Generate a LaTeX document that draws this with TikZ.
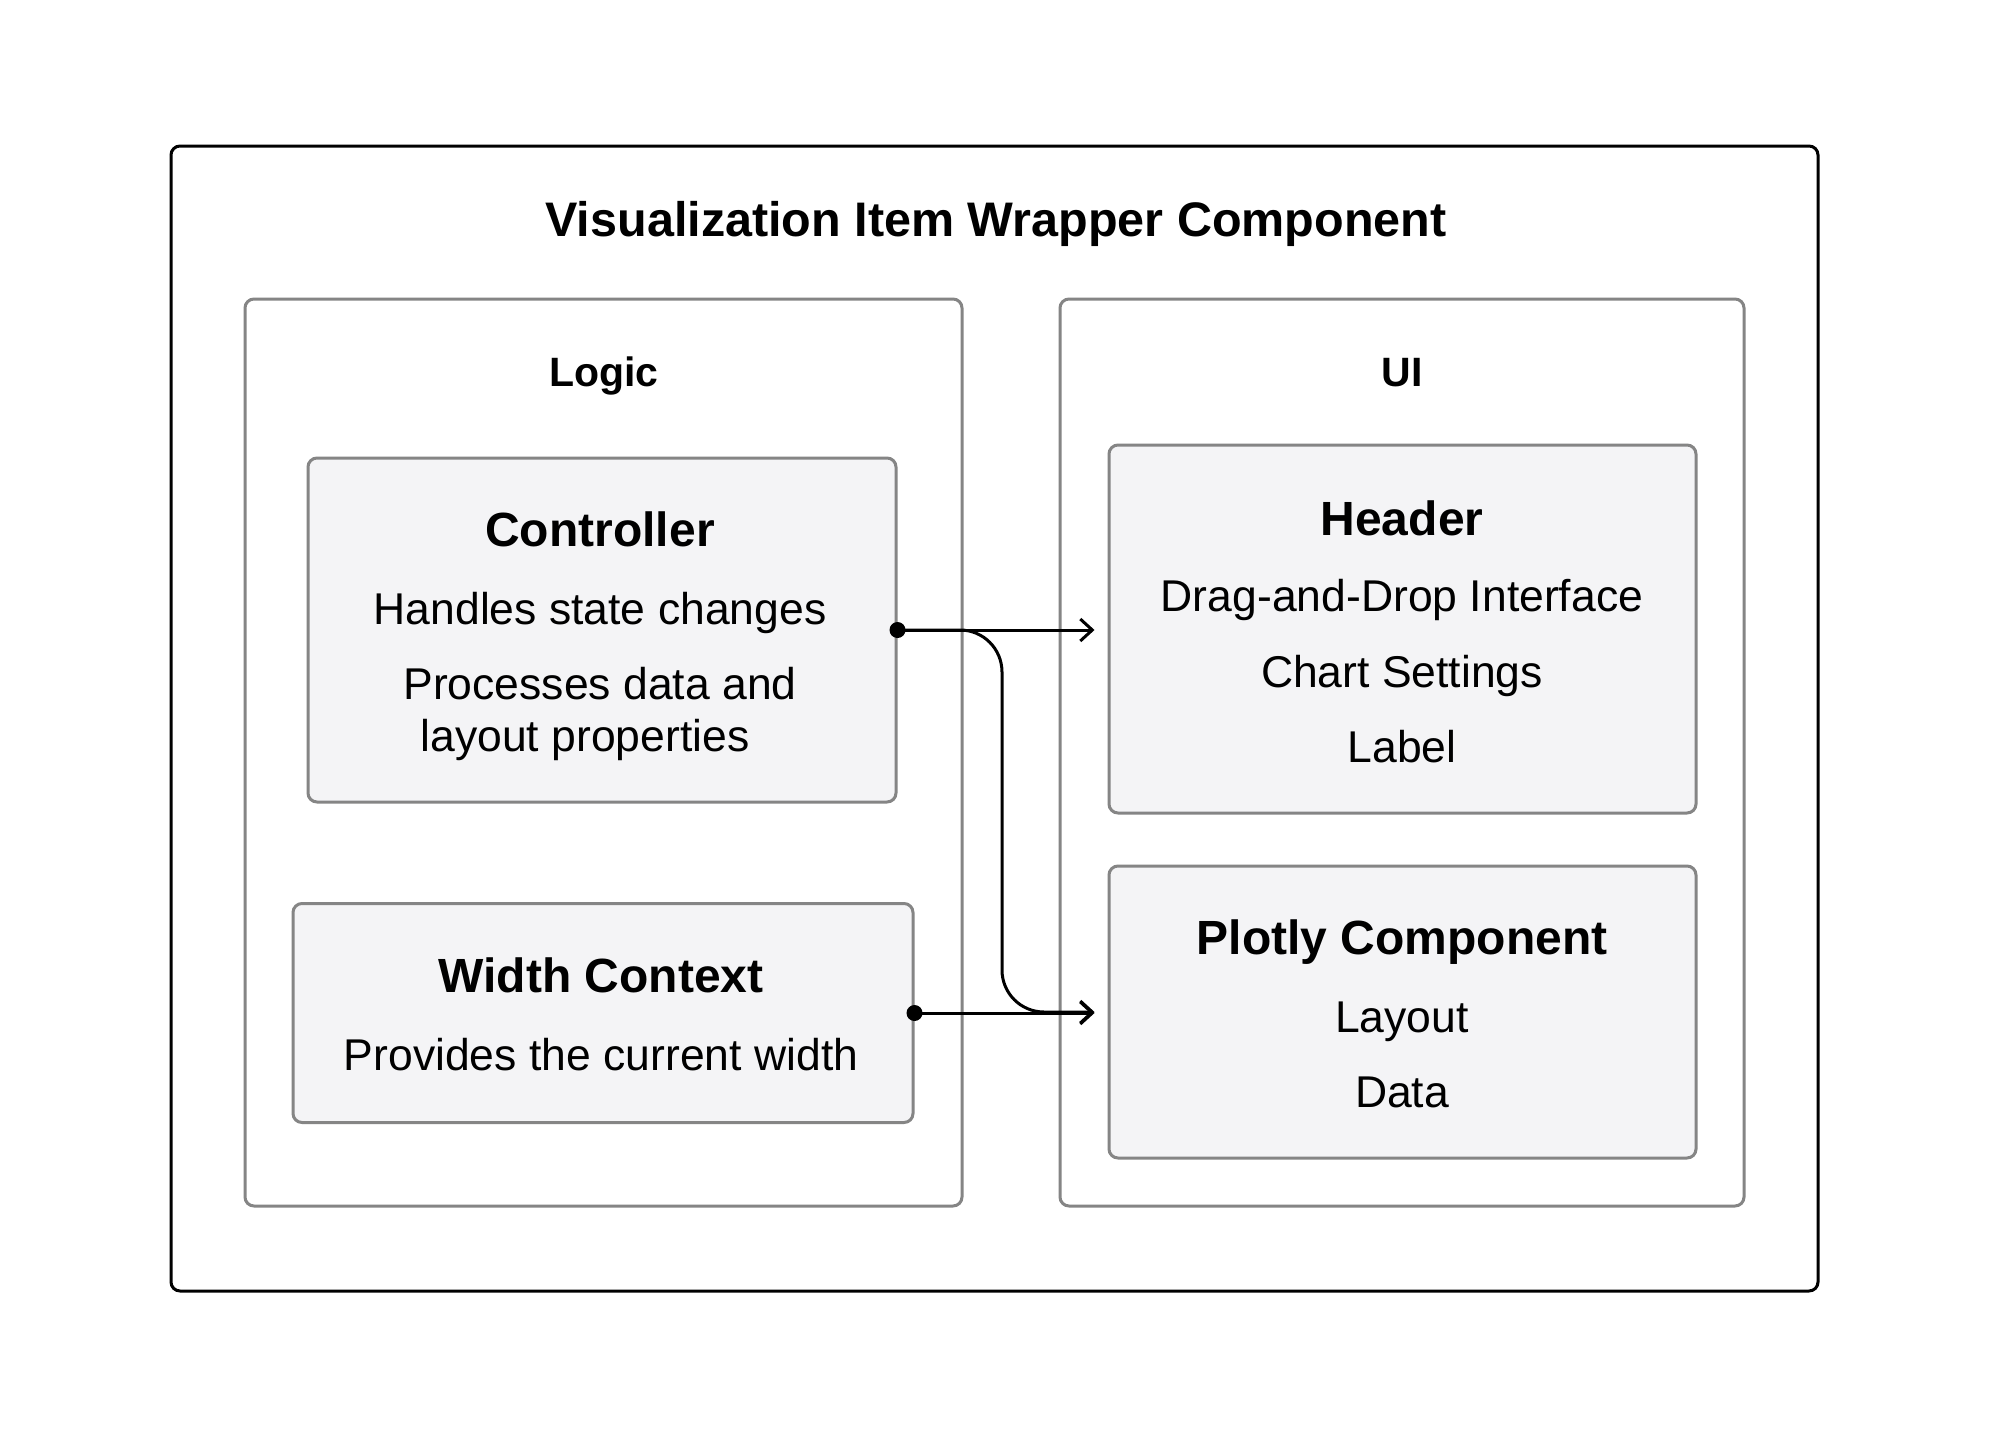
\documentclass[tikz,border=0pt]{standalone}
\usepackage{fontspec}
\setmainfont{Liberation Sans}
\usetikzlibrary{arrows.meta}
\definecolor{boxfill}{HTML}{F4F4F6}
\definecolor{boxline}{HTML}{858585}
\tikzset{
  outerbox/.style={draw=black, line width=3pt, rounded corners=9pt, fill=white},
  groupbox/.style={draw=boxline, line width=3pt, rounded corners=9pt, fill=white, inner sep=0pt},
  itembox/.style={draw=boxline, line width=3pt, rounded corners=9pt, fill=boxfill, inner sep=0pt},
  txt/.style={inner sep=0pt, text depth=0pt, anchor=center},
  titletxt/.style={txt, text height=34.7pt, font=\fontsize{48.5}{56}\selectfont\bfseries},
  grouptxt/.style={txt, text height=29.4pt, font=\fontsize{41}{48}\selectfont\bfseries},
  headtxt/.style={txt, text height=34.4pt, font=\fontsize{48}{56}\selectfont\bfseries},
  bodytxt/.style={txt, text height=31.9pt, font=\fontsize{44.5}{52}\selectfont},
  conn/.style={draw=black, line width=3pt, -{Straight Barb[length=12pt,width=22pt,line width=3pt]}},
}
\begin{document}
\begin{tikzpicture}[x=1pt,y=-1pt]
\path[use as bounding box, fill=white] (0,0) rectangle (1989,1437);
% boxes
\node[outerbox, minimum width=1647pt, minimum height=1145pt] (outer) at (994.5,718.5) {};
\node[groupbox, minimum width=717pt, minimum height=907pt] (logic) at (603.5,752.5) {};
\node[groupbox, minimum width=684pt, minimum height=907pt] (ui) at (1402,752.5) {};
\node[itembox, minimum width=588pt, minimum height=344pt] (ctrl) at (602,630) {};
\node[itembox, minimum width=620pt, minimum height=219pt] (wctx) at (603,1013) {};
\node[itembox, minimum width=587pt, minimum height=368pt] (hdr) at (1402.5,629) {};
\node[itembox, minimum width=587pt, minimum height=292pt] (plt) at (1402.5,1012) {};
% texts
\node[titletxt] (title) at (996,219) {Visualization Item Wrapper Component};
\node[grouptxt] (logict) at (604,372) {Logic};
\node[grouptxt] (uit) at (1402,372) {UI};
\node[headtxt] (ctrlt) at (600,529) {Controller};
\node[bodytxt] (ctrl1) at (600,609) {Handles state changes};
\node[bodytxt] (ctrl2) at (600,684) {Processes data and};
\node[bodytxt] (ctrl3) at (585,736) {layout properties};
\node[headtxt] (wctxt) at (601,975) {Width Context};
\node[bodytxt] (wctx1) at (601,1055) {Provides the current width};
\node[headtxt] (hdrt) at (1402,518) {Header};
\node[bodytxt] (hdr1) at (1402,596) {Drag-and-Drop Interface};
\node[bodytxt] (hdr2) at (1402,672) {Chart Settings};
\node[bodytxt] (hdr3) at (1402,747) {Label};
\node[headtxt] (pltt) at (1402,937) {Plotly Component};
\node[bodytxt] (plt1) at (1402,1017) {Layout};
\node[bodytxt] (plt2) at (1402,1092) {Data};
% connectors
\coordinate (bend) at (1002,630);
\draw[conn] (ctrl.east) -- ([xshift=-13pt]hdr.west |- ctrl.east);
\draw[conn, rounded corners=42pt] (ctrl.east) -| (bend |- plt.west) -- ([xshift=-13pt]plt.west);
\draw[conn] (wctx.east) -- ([xshift=-13pt]plt.west |- wctx.east);
\fill (ctrl.east) circle (8pt);
\fill (wctx.east) circle (8pt);
\end{tikzpicture}
\end{document}
